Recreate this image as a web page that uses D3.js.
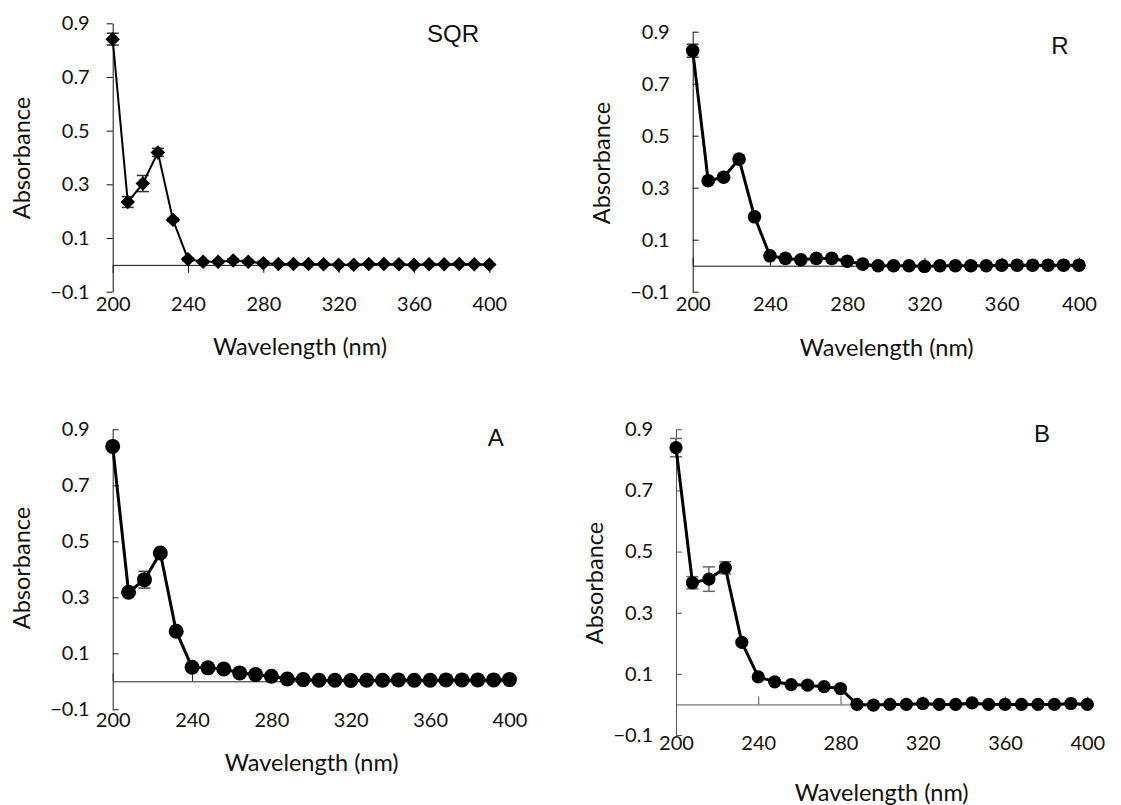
<!DOCTYPE html>
<html>
<head>
<meta charset="utf-8">
<script src="https://cdn.jsdelivr.net/npm/d3@7"></script>
<style>
  body { margin: 0; background: #fff; }
  svg { display: block; }
  .tick-label { font-family: Lato, "Open Sans", sans-serif; font-size: 20px; fill: #111; }
  .title { font-family: Lato, "Open Sans", sans-serif; font-size: 23.5px; fill: #111; }
  .panel-label { font-family: "Liberation Sans", Arial, sans-serif; font-size: 24px; fill: #111; }
</style>
</head>
<body>
<div id="chart"></div>
<script>
// wavelength grid, 200-400 nm every 8 nm
const wavelengths = [200, 208, 216, 224, 232, 240, 248, 256, 264, 272, 280, 288, 296,
  304, 312, 320, 328, 336, 344, 352, 360, 368, 376, 384, 392, 400];

const sqrValues = [0.841, 0.234, 0.303, 0.419, 0.168, 0.021, 0.012, 0.012, 0.016, 0.012, 0.006, 0.003, 0.003,
  0.003, 0.002, 0.000, 0.000, 0.003, 0.003, 0.002, 0.000, 0.002, 0.002, 0.003, 0.002, 0.001];
const sqrErrors = [0.022, 0.020, 0.030, 0.015, 0.006, 0.005, 0.004, 0.004, 0.006, 0.005, 0.008, 0.003, 0.003,
  0.003, 0.003, 0.003, 0.003, 0.003, 0.003, 0.003, 0.003, 0.003, 0.003, 0.003, 0.003, 0.003];

const rValues = [0.827, 0.327, 0.340, 0.410, 0.188, 0.038, 0.028, 0.023, 0.028, 0.028, 0.017, 0.006, 0.000,
  0.000, 0.000, -0.003, 0.000, 0.000, 0.000, 0.000, 0.002, 0.002, 0.002, 0.002, 0.002, 0.002];
const rErrors = [0.025, 0.008, 0.006, 0.008, 0.006, 0.004, 0.003, 0.003, 0.003, 0.003, 0.003, 0.002, 0.002,
  0.002, 0.002, 0.002, 0.002, 0.002, 0.012, 0.002, 0.002, 0.002, 0.002, 0.002, 0.002, 0.002];

const aValues = [0.839, 0.318, 0.363, 0.458, 0.179, 0.050, 0.048, 0.044, 0.030, 0.024, 0.018, 0.008, 0.006,
  0.004, 0.004, 0.003, 0.004, 0.004, 0.005, 0.004, 0.004, 0.005, 0.005, 0.005, 0.005, 0.006];
const aErrors = [0.008, 0.008, 0.030, 0.010, 0.006, 0.006, 0.004, 0.004, 0.004, 0.003, 0.003, 0.002, 0.002,
  0.002, 0.002, 0.002, 0.002, 0.002, 0.002, 0.002, 0.002, 0.002, 0.002, 0.002, 0.002, 0.002];

const bValues = [0.840, 0.398, 0.410, 0.447, 0.203, 0.090, 0.074, 0.065, 0.063, 0.058, 0.052, 0.000, -0.002,
  0.000, 0.000, 0.003, 0.000, 0.000, 0.005, 0.000, 0.000, 0.000, 0.000, 0.000, 0.003, 0.000];
const bErrors = [0.030, 0.020, 0.040, 0.020, 0.008, 0.006, 0.005, 0.005, 0.010, 0.006, 0.005, 0.003, 0.002,
  0.002, 0.002, 0.002, 0.002, 0.002, 0.002, 0.002, 0.002, 0.002, 0.002, 0.002, 0.002, 0.002];

const xTicks = [200, 240, 280, 320, 360, 400];
const yTicks = [-0.1, 0.1, 0.3, 0.5, 0.7, 0.9];

const svg = d3.select('#chart').append('svg')
  .attr('width', 1121)
  .attr('height', 805);

// each panel was sized a little differently in the source figure
const panels = [
  { name: 'SQR', values: sqrValues, errors: sqrErrors, marker: 'diamond', lineWidth: 2,
    x0: 112.7, x1: 489.3, yTop: 23.3, yBot: 291.7, labelY: 304,
    xTitle: [300, 347], yTitle: [22, 158], tag: [453, 34], yTickDir: 1, xTickDir: 1,
    axisColour: '#111', errColour: '#333', r: 6.5 },
  { name: 'R', values: rValues, errors: rErrors, marker: 'circle', lineWidth: 3,
    x0: 692.7, x1: 1079, yTop: 31.7, yBot: 291.7, labelY: 304,
    xTitle: [886.7, 348], yTitle: [601.7, 163], tag: [1060, 46], yTickDir: -1, xTickDir: -1,
    axisColour: '#111', errColour: '#333', r: 6.8 },
  { name: 'A', values: aValues, errors: aErrors, marker: 'circle', lineWidth: 3,
    x0: 112.7, x1: 509.5, yTop: 429.3, yBot: 709.3, labelY: 720,
    xTitle: [311.7, 763], yTitle: [22, 568], tag: [495.7, 438], yTickDir: -1, xTickDir: -1,
    axisColour: '#222', errColour: '#444', r: 7.5 },
  { name: 'B', values: bValues, errors: bErrors, marker: 'circle', lineWidth: 3,
    x0: 676, x1: 1087.3, yTop: 429.3, yBot: 735, labelY: 743.3,
    xTitle: [881.7, 793], yTitle: [595, 583], tag: [1042, 434], yTickDir: -1, xTickDir: -1,
    axisColour: '#555', errColour: '#666', r: 6.6 }
];

panels.forEach(drawPanel);

function drawPanel(p) {
  const x = d3.scaleLinear().domain([200, 400]).range([p.x0, p.x1]);
  const y = d3.scaleLinear().domain([-0.1, 0.9]).range([p.yBot, p.yTop]);
  const g = svg.append('g').attr('class', 'panel-' + p.name);
  const pts = wavelengths.map((w, i) => ({ w, v: p.values[i], e: p.errors[i] }));

  // y axis, ticks outward for SQR and inward for the others
  const yAxis = g.append('g')
    .attr('transform', `translate(${p.x0},0)`)
    .call(d3.axisLeft(y).tickValues(yTicks).tickFormat(d3.format('.1f'))
      .tickSize(6 * p.yTickDir).tickSizeOuter(0)
      .tickPadding(23 - Math.max(6 * p.yTickDir, 0)));
  yAxis.selectAll('text').attr('class', 'tick-label').attr('fill', null);

  // horizontal axis line through zero with small ticks
  g.append('g')
    .attr('transform', `translate(0,${y(0)})`)
    .call(d3.axisBottom(x).tickValues(xTicks).tickFormat('')
      .tickSize(8 * p.xTickDir).tickSizeOuter(0));

  // tick labels sit under the plot, not under the zero line
  const xLab = g.append('g')
    .attr('transform', `translate(0,${p.labelY})`)
    .call(d3.axisBottom(x).tickValues(xTicks).tickSize(0).tickPadding(0));
  xLab.select('.domain').remove();
  xLab.selectAll('text').attr('class', 'tick-label').attr('fill', null)
    .attr('dy', '0.35em').attr('y', 0);

  g.selectAll('.domain, .tick line').attr('stroke', p.axisColour);

  // error bars
  const eb = g.append('g').attr('stroke', p.errColour).attr('stroke-width', 1.5);
  pts.forEach((d) => {
    eb.append('line').attr('x1', x(d.w)).attr('x2', x(d.w))
      .attr('y1', y(d.v - d.e)).attr('y2', y(d.v + d.e));
    [d.v - d.e, d.v + d.e].forEach((c) => {
      eb.append('line').attr('x1', x(d.w) - 6).attr('x2', x(d.w) + 6)
        .attr('y1', y(c)).attr('y2', y(c));
    });
  });

  g.append('path')
    .datum(pts)
    .attr('fill', 'none')
    .attr('stroke', '#000')
    .attr('stroke-width', p.lineWidth)
    .attr('stroke-linejoin', 'round')
    .attr('d', d3.line().x((d) => x(d.w)).y((d) => y(d.v)));

  if (p.marker === 'diamond') {
    g.selectAll('.pt').data(pts).join('path')
      .attr('class', 'pt')
      .attr('transform', (d) => `translate(${x(d.w)},${y(d.v)}) rotate(45)`)
      .attr('d', d3.symbol(d3.symbolSquare, 105))
      .attr('fill', '#000');
  } else {
    g.selectAll('.pt').data(pts).join('circle')
      .attr('class', 'pt')
      .attr('cx', (d) => x(d.w))
      .attr('cy', (d) => y(d.v))
      .attr('r', p.r)
      .attr('fill', '#000');
  }

  g.append('text')
    .attr('class', 'title')
    .attr('x', p.xTitle[0]).attr('y', p.xTitle[1])
    .attr('text-anchor', 'middle').attr('dy', '0.35em')
    .text('Wavelength (nm)');

  g.append('text')
    .attr('class', 'title')
    .attr('transform', `translate(${p.yTitle[0]},${p.yTitle[1]}) rotate(-90)`)
    .attr('text-anchor', 'middle').attr('dy', '0.35em')
    .text('Absorbance');

  g.append('text')
    .attr('class', 'panel-label')
    .attr('x', p.tag[0]).attr('y', p.tag[1])
    .attr('text-anchor', 'middle').attr('dy', '0.35em')
    .text(p.name);
}
</script>
</body>
</html>
